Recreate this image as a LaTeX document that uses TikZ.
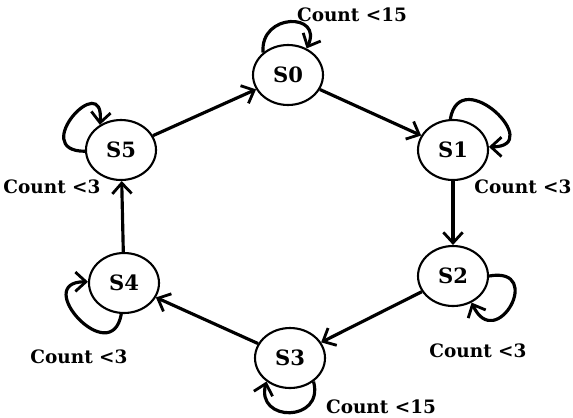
\documentclass[tikz,border=0pt]{standalone}
\usepackage{fontspec}
\setmainfont{DejaVu Serif}
\usetikzlibrary{arrows.meta,shapes.geometric}

\begin{document}
\begin{tikzpicture}[x=0.02cm, y=0.02cm,
    state/.style={draw, ellipse, line width=1.2pt, minimum width=1.4cm, minimum height=1.2cm, inner sep=0pt, font=\bfseries\fontsize{12}{14}\selectfont},
    cond/.style={font=\bfseries\fontsize{10.5}{12}\selectfont, inner sep=0pt},
    arr/.style={line width=1.8pt, -{Straight Barb[length=6pt,width=11pt,line width=1.6pt]}}]
    \useasboundingbox (0,0) rectangle (573,417);

    % States
    \node[state] (s0) at (288,342) {S0};
    \node[state] (s1) at (453,267) {S1};
    \node[state] (s2) at (453,141) {S2};
    \node[state] (s3) at (290,59) {S3};
    \node[state] (s4) at (124,134) {S4};
    \node[state] (s5) at (121,267) {S5};

    % Conditions
    \node[cond] (c0) at (352,402) {Count <15};
    \node[cond] (c1) at (523,230) {Count <3};
    \node[cond] (c2) at (478,66) {Count <3};
    \node[cond] (c3) at (381,10) {Count <15};
    \node[cond] (c4) at (79,60) {Count <3};
    \node[cond] (c5) at (52,230) {Count <3};

    % Ring
    \draw[arr] (s0) -- (s1);
    \draw[arr] (s1) -- (s2);
    \draw[arr] (s2) -- (s3);
    \draw[arr] (s3) -- (s4);
    \draw[arr] (s4) -- (s5);
    \draw[arr] (s5) -- (s0);

    % Self loops
    \draw[arr] (s0.138) to[out=95, in=65, distance=0.8cm] (s0.55);
    \draw[arr] (s1.95) to[out=80, in=0, distance=1.15cm] (s1.5);
    \draw[arr] (s2.0) to[out=10, in=-65, distance=1.15cm] (s2.-55);
    \draw[arr] (s3.-45) to[out=-75, in=-105, distance=0.85cm] (s3.-135);
    \draw[arr] (s4.-95) to[out=-100, in=180, distance=1.15cm] (s4.178);
    \draw[arr] (s5.182) to[out=180, in=85, distance=1.15cm] (s5.130);

\end{tikzpicture}
\end{document}
